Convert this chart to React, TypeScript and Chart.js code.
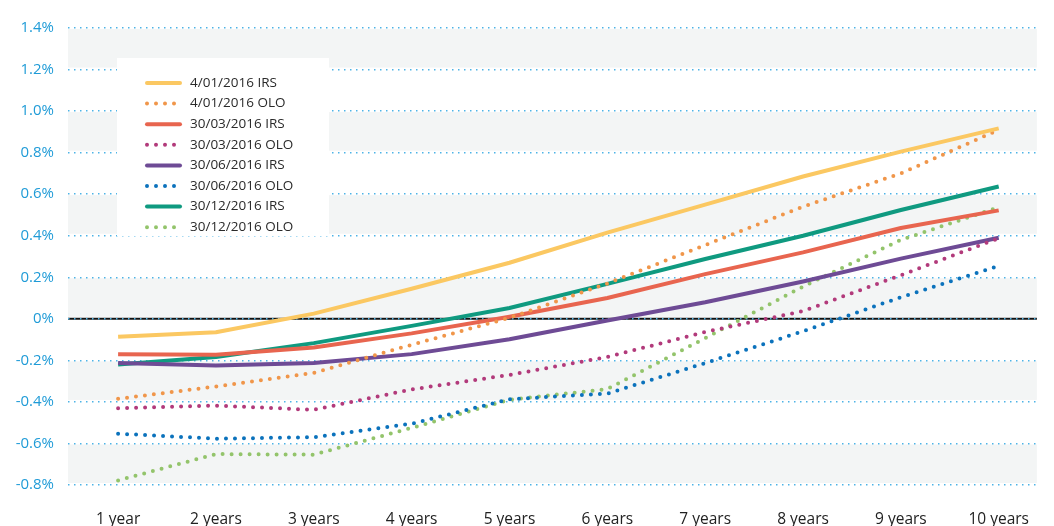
import React, { useEffect, useRef } from "react";
import { Chart, registerables } from "chart.js";

Chart.register(...registerables);

const categories = ["1 year", "2 years", "3 years", "4 years", "5 years", "6 years", "7 years", "8 years", "9 years", "10 years"];

const irs20160104 = [-0.086, -0.065, 0.025, 0.145, 0.27, 0.415, 0.55, 0.685, 0.805, 0.917];
const olo20160104 = [-0.385, -0.326, -0.26, -0.125, 0.005, 0.17, 0.355, 0.54, 0.70, 0.91];
const irs20160330 = [-0.17, -0.173, -0.138, -0.07, 0.01, 0.10, 0.215, 0.32, 0.437, 0.522];
const olo20160330 = [-0.43, -0.418, -0.438, -0.34, -0.27, -0.184, -0.063, 0.037, 0.21, 0.388];
const irs20160630 = [-0.213, -0.225, -0.213, -0.17, -0.098, -0.008, 0.08, 0.18, 0.29, 0.39];
const olo20160630 = [-0.553, -0.577, -0.57, -0.505, -0.387, -0.36, -0.213, -0.06, 0.104, 0.255];
const irs20161230 = [-0.22, -0.184, -0.117, -0.034, 0.052, 0.168, 0.288, 0.40, 0.524, 0.637];
const olo20161230 = [-0.778, -0.651, -0.654, -0.525, -0.39, -0.338, -0.093, 0.155, 0.38, 0.537];

const seriesLabels = ["4/01/2016 IRS", "4/01/2016 OLO", "30/03/2016 IRS", "30/03/2016 OLO", "30/06/2016 IRS", "30/06/2016 OLO", "30/12/2016 IRS", "30/12/2016 OLO"];
const seriesValues = [irs20160104, olo20160104, irs20160330, olo20160330, irs20160630, olo20160630, irs20161230, olo20161230];
const seriesColors = ["#fbc862", "#f0964a", "#e8654f", "#b23a7b", "#6e4b95", "#0b72bc", "#0f9a80", "#93c46b"];
const seriesDotted = [false, true, false, true, false, true, false, true];

const yTicks = [1.4, 1.2, 1.0, 0.8, 0.6, 0.4, 0.2, 0, -0.2, -0.4, -0.6, -0.8];

const FONT = "'Open Sans', sans-serif";

const bandsPlugin = {
  id: "bands",
  beforeDraw(chart: any) {
    const { ctx, chartArea, scales } = chart;
    const y = scales.y;
    ctx.save();
    ctx.fillStyle = "#f3f5f5";
    for (let i = 0; i < yTicks.length - 1; i += 2) {
      const top = y.getPixelForValue(yTicks[i]);
      const bot = y.getPixelForValue(yTicks[i + 1]);
      ctx.fillRect(chartArea.left, top + 1, chartArea.right - chartArea.left, bot - top - 3);
    }
    const z = y.getPixelForValue(0);
    ctx.strokeStyle = "#111111";
    ctx.lineWidth = 2;
    ctx.beginPath();
    ctx.moveTo(chartArea.left, z);
    ctx.lineTo(chartArea.right, z);
    ctx.stroke();
    ctx.restore();
  },
};

const legendPlugin = {
  id: "boxLegend",
  beforeDatasetsDraw(chart: any) {
    const { ctx } = chart;
    ctx.save();
    ctx.fillStyle = "#ffffff";
    ctx.fillRect(117, 58, 212, 178);
    ctx.font = `13.5px ${FONT}`;
    ctx.textBaseline = "middle";
    chart.data.datasets.forEach((ds: any, i: number) => {
      const yy = 83 + i * 20.6;
      ctx.strokeStyle = ds.borderColor;
      ctx.lineWidth = 4;
      ctx.lineCap = "round";
      ctx.setLineDash(ds.borderDash || []);
      ctx.beginPath();
      ctx.moveTo(147, yy);
      ctx.lineTo(180, yy);
      ctx.stroke();
      ctx.setLineDash([]);
      ctx.fillStyle = "#2a2a2a";
      ctx.fillText(ds.label, 190, yy);
    });
    ctx.restore();
  },
};

export default function App() {
  const ref = useRef<HTMLCanvasElement>(null);
  useEffect(() => {
    document.body.style.margin = "0";
    const chart = new Chart(ref.current!, {
      type: "line",
      data: {
        datasets: seriesLabels.map((label, i) => ({
          label,
          data: seriesValues[i].map((v, j) => ({ x: j + 1, y: v })),
          borderColor: seriesColors[i],
          backgroundColor: seriesColors[i],
          borderWidth: 4,
          borderDash: seriesDotted[i] ? [0, 9] : [],
          borderCapStyle: seriesDotted[i] ? "round" : "butt",
          borderJoinStyle: "round",
          pointRadius: 0,
          tension: 0,
          fill: false,
        })),
      },
      options: {
        animation: false,
        responsive: false,
        maintainAspectRatio: false,
        layout: { padding: { top: 28, right: 0, left: 0, bottom: 0 } },
        plugins: {
          legend: { display: false },
          tooltip: { enabled: false },
        },
        scales: {
          x: {
            type: "linear",
            min: 0.488,
            max: 10.39,
            grid: { display: false, drawTicks: false },
            border: { display: false },
            afterBuildTicks: (scale: any) => {
              scale.ticks = categories.map((_, i) => ({ value: i + 1 }));
            },
            afterFit: (scale: any) => {
              scale.height = 41;
            },
            ticks: {
              autoSkip: false,
              maxRotation: 0,
              padding: 25,
              color: "#222222",
              font: { family: FONT, size: 15.5 },
              callback: (v: any) => categories[Math.round(v) - 1] ?? "",
            },
          },
          y: {
            min: -0.8,
            max: 1.4,
            afterBuildTicks: (scale: any) => {
              scale.ticks = yTicks.slice().reverse().map((v) => ({ value: v }));
            },
            afterFit: (scale: any) => {
              scale.width = 68;
            },
            grid: {
              drawTicks: false,
              color: "#4db3e6",
              lineWidth: 1.5,
            },
            border: { display: false, dash: [1.5, 4.5] },
            ticks: {
              padding: 14,
              color: "#1f9bd7",
              font: { family: FONT, size: 15 },
              callback: (v: any) => (Math.abs(v) < 1e-9 ? "0%" : Number(v).toFixed(1) + "%"),
            },
          },
        },
      },
      plugins: [bandsPlugin, legendPlugin],
    } as any);
    return () => chart.destroy();
  }, []);
  return <canvas ref={ref} width={1054} height={526} style={{ display: "block", width: 1054, height: 526 }} />;
}
